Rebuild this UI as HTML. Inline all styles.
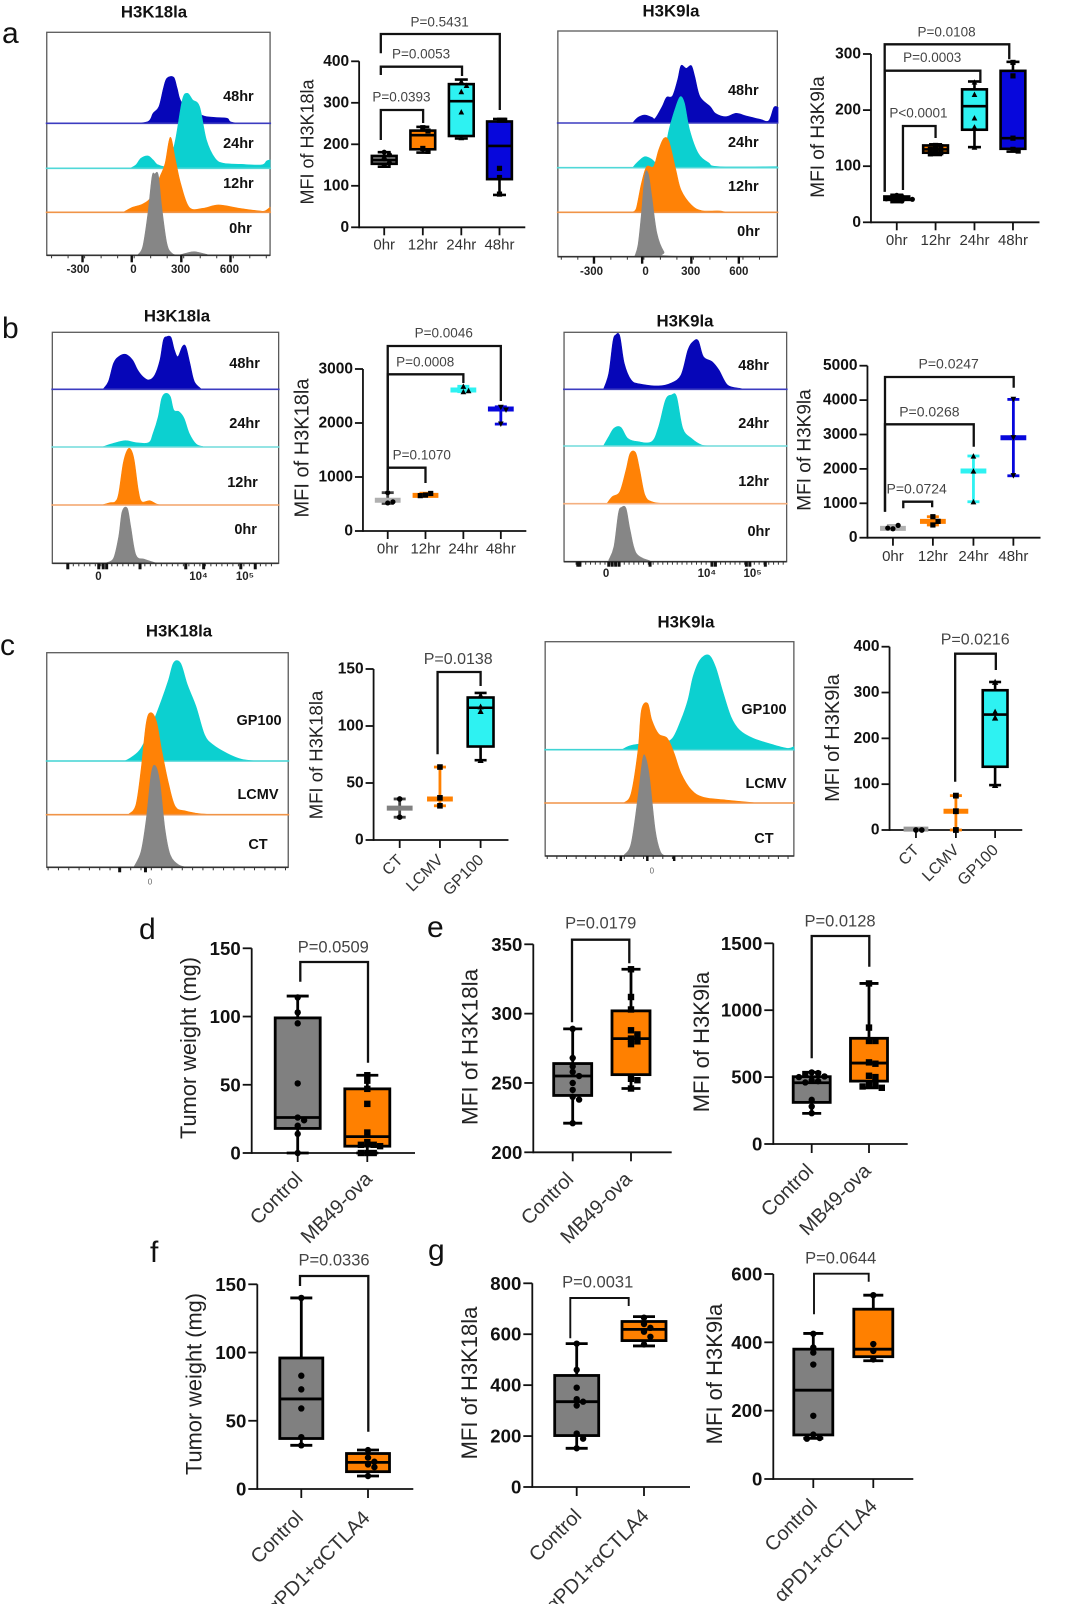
<!DOCTYPE html>
<html lang="en">
<head>
<meta charset="utf-8">
<title>Histone lactylation flow cytometry and MFI figure</title>
<style>
html,body{margin:0;padding:0;background:#fff;}
svg{display:block;font-family:"Liberation Sans",sans-serif;}
.letter{font-size:30px;fill:#111;}
.ftitle{font-size:16.8px;font-weight:bold;fill:#111;text-anchor:middle;dominant-baseline:central;}
</style>
</head>
<body>
<svg id="figure" xmlns="http://www.w3.org/2000/svg" width="1080" height="1604" viewBox="0 0 1080 1604">
<rect width="1080" height="1604" fill="#fff"/>
<text class="letter" x="2" y="43">a</text>
<text class="letter" x="2" y="338">b</text>
<text class="letter" x="0" y="655">c</text>
<text class="letter" x="139" y="939">d</text>
<text class="letter" x="427" y="937">e</text>
<text class="letter" x="150" y="1262">f</text>
<text class="letter" x="428" y="1260">g</text>
<text class="ftitle" x="154" y="12">H3K18la</text>
<text class="ftitle" x="671" y="11">H3K9la</text>
<text class="ftitle" x="177" y="316">H3K18la</text>
<text class="ftitle" x="685" y="321">H3K9la</text>
<text class="ftitle" x="179" y="631">H3K18la</text>
<text class="ftitle" x="686" y="622">H3K9la</text>
</svg>
<script>
/* ---------- colours ---------- */
const GREY='#808080', ORANGE='#ff8000', CYAN='#2ef2f2', BLUE='#0707dc';
const HGREY='#868686', HORANGE='#ff8206', HCYAN='#0cd0d0', HBLUE='#0606b8';

/* ---------- flow histograms: [channel, count] readings ---------- */
const a18Hist48=[[244,0],[294,5],[309,30],[326,50],[339,105],[349,135],[369,138],[379,105],[394,60],[449,25],[484,18],[524,15],[544,2],[649,1]];
const a18Hist24=[[244,1],[259,10],[274,30],[294,37],[309,25],[324,10],[354,10],[374,85],[394,205],[409,225],[424,205],[444,185],[464,85],[489,30],[514,15],[564,12],[624,10],[639,22],[649,25]];
const a18Hist12=[[224,1],[249,15],[279,25],[304,47],[329,107],[344,147],[359,225],[374,157],[389,87],[414,15],[454,12],[499,22],[559,12],[619,4],[634,4],[649,15]];
const a18Hist0=[[264,1],[279,26],[294,126],[306,236],[314,244],[324,241],[334,146],[349,36],[364,6],[384,1],[404,6],[429,11],[464,3],[484,0],[649,0]];

const a9Hist48=[[218,1],[233,17],[253,24],[273,17],[283,14],[303,49],[316,77],[333,81],[348,129],[358,172],[373,164],[388,172],[398,139],[413,79],[443,49],[458,29],[488,19],[518,29],[548,21],[588,11],[613,7],[628,47],[640,47]];
const a9Hist24=[[218,1],[233,18],[253,33],[273,25],[293,8],[308,33],[323,113],[343,183],[356,213],[368,193],[383,113],[408,43],[438,15],[468,3],[638,3]];
const a9Hist12=[[218,1],[228,12],[243,87],[258,137],[278,137],[293,187],[308,222],[323,212],[343,127],[358,67],[388,22],[418,5],[468,4],[508,0],[638,0]];
const a9Hist0=[[223,0],[233,35],[243,130],[253,245],[263,248],[273,180],[288,70],[308,15],[328,2],[638,0]];

const b18Hist48=[[148,1],[163,23],[178,78],[193,98],[213,105],[233,88],[248,58],[263,38],[280,28],[298,43],[313,88],[323,148],[333,158],[345,156],[355,118],[365,98],[378,128],[388,128],[400,78],[413,23],[433,1]];
const b18Hist24=[[148,1],[178,11],[213,19],[243,13],[280,13],[293,41],[308,91],[318,146],[330,161],[343,151],[353,111],[368,106],[383,86],[398,41],[418,9],[438,1]];
const b18Hist12=[[148,1],[168,7],[183,10],[193,35],[206,125],[218,165],[228,167],[238,135],[250,45],[260,10],[283,13],[303,3],[318,0]];
const b18Hist0=[[158,2],[178,15],[193,80],[203,155],[218,165],[228,110],[243,25],[268,12],[298,2]];

const b9Hist48=[[115,1],[130,48],[142,143],[150,163],[162,160],[175,78],[195,28],[220,16],[275,10],[310,18],[340,43],[360,118],[375,143],[390,146],[405,98],[430,83],[450,58],[475,13],[510,3],[530,0]];
const b9Hist24=[[115,1],[130,28],[145,53],[165,56],[185,23],[215,13],[255,13],[275,58],[295,138],[312,153],[327,148],[345,53],[370,23],[400,3],[430,0]];
const b9Hist12=[[125,1],[140,21],[162,36],[180,101],[192,151],[208,153],[220,101],[235,26],[255,6],[290,0]];
const b9Hist0=[[130,5],[145,45],[158,145],[167,163],[180,160],[192,95],[210,25],[250,2]];

const c18HistGp=[[229,1],[249,13],[274,38],[304,103],[334,183],[354,243],[369,295],[389,293],[409,228],[434,163],[459,78],[484,48],[524,23],[564,6],[604,0]];
const c18HistLcmv=[[239,2],[259,29],[274,134],[289,274],[302,306],[319,279],[334,194],[354,94],[374,24],[404,11],[444,3],[484,0]];
const c18HistCt=[[254,2],[274,47],[289,142],[304,282],[316,304],[329,252],[344,112],[359,37],[384,7],[414,0]];

const c9HistGp=[[225,1],[255,14],[340,24],[370,34],[395,89],[415,149],[430,219],[450,269],[475,284],[495,249],[515,179],[540,99],[565,59],[605,34],[665,14],[705,4],[723,9]];
const c9HistLcmv=[[230,1],[250,29],[270,159],[280,279],[298,299],[310,249],[330,207],[355,194],[375,149],[395,89],[425,39],[460,17],[525,9],[605,1]];
const c9HistCt=[[230,3],[250,38],[270,178],[283,288],[291,298],[303,238],[320,78],[335,13],[350,0]];

/* ---------- box / range charts: [low, q1, median, q3, high] ---------- */
const hours=['0hr','12hr','24hr','48hr'];
const virus=['CT','LCMV','GP100'];
const mb49=['Control','MB49-ova'];
const pd1=['Control','αPD1+αCTLA4'];

const a18YTicks=[0,100,200,300,400];
const a18Boxes=[[146,153,162,172,181],[180,188,222,233,242],[214,220,304,345,356],[78,116,196,255,261]];
const a18Points=[[181,175,165,155,150],[240,232,190,183],[352,342,327,278,216],[258,258,142,120,80]];
const a18P=['P=0.0393','P=0.0053','P=0.5431'];

const a9YTicks=[0,100,200,300];
const a9Boxes=[[36,40,42,46,49],[120,124,130,137,139],[134,165,207,237,251],[126,131,150,270,286]];
const a9Points=[[48,46,44,43,42,41,40,38],[137,135,130,128,124,122],[250,228,186,170,134],[285,261,150,130,127]];
const a9P=['P<0.0001','P=0.0003','P=0.0108'];

const b18YTicks=[0,1000,2000,3000];
const b18Boxes=[[510,510,570,710,710],[650,650,660,700,700],[2580,2580,2610,2680,2680],[1980,1980,2260,2300,2300]];
const b18Points=[[710,520,540],[665,695,655],[2580,2680,2600],[2290,2240,1980]];
const b18P=['P=0.1070','P=0.0008','P=0.0046'];

const b9YTicks=[0,1000,2000,3000,4000,5000];
const b9Boxes=[[260,260,270,358,358],[370,370,475,610,610],[1045,1045,1940,2375,2375],[1800,1800,2905,4020,4020]];
const b9Points=[[260,358,280],[610,370,475],[2375,1940,1045],[4020,2905,1800]];
const b9P=['P=0.0724','P=0.0268','P=0.0247'];

const c18YTicks=[0,50,100,150];
const c18Boxes=[[20,20,28,36,36],[30,30,36,64,64],[70,82,116,125,129]];
const c18Points=[[36,20],[64,37,30],[127,117,113,70]];
const c18P=['P=0.0138'];

const c9YTicks=[0,100,200,300,400];
const c9Boxes=[[0,0,2,2,2],[0,0,41,75,75],[98,138,252,305,323]];
const c9Points=[[0,0],[75,41,0],[323,258,245,98]];
const c9P=['P=0.0216'];

const dYTicks=[0,50,100,150];
const dBoxes=[[0,18,26,99,115],[0,5,12,47,57]];
const dPoints=[[114,103,95,51,26,24,20,14,0],[57,53,47,36,15,8,6,6,5,0,0,0]];
const dP=['P=0.0509'];

const e18YTicks=[200,250,300,350];
const e18Boxes=[[221,241,255,264,289],[246,256,282,302,332]];
const e18Points=[[289,268,262,258,255,250,245,240,238,221],[332,312,303,288,285,282,280,278,253,252,246]];
const e18P=['P=0.0179'];

const e9YTicks=[0,500,1000,1500];
const e9Boxes=[[229,311,458,503,536],[420,470,605,790,1200]];
const e9Points=[[535,530,520,505,500,475,470,460,330,280,230],[1200,870,770,770,610,600,510,500,450,440,430,420]];
const e9P=['P=0.0128'];

const fYTicks=[0,50,100,150];
const fBoxes=[[32,37,66,96,140],[9.5,12.7,19.5,26,28.6]];
const fPoints=[[140,83,73,59,38,32],[28.5,23,20,18,16,9.5]];
const fP=['P=0.0336'];

const g18YTicks=[0,200,400,600,800];
const g18Boxes=[[152,202,335,438,563],[554,575,619,650,669]];
const g18Points=[[563,460,390,345,335,320,210,190,152],[665,640,625,610,590,560]];
const g18P=['P=0.0031'];

const g9YTicks=[0,200,400,600];
const g9Boxes=[[119,129,260,380,426],[346,358,380,497,538]];
const g9Points=[[425,385,370,335,185,130,120,118],[538,395,375,350]];
const g9P=['P=0.0644'];

/* ---------- helpers ---------- */
const NS='http://www.w3.org/2000/svg';
const root=document.getElementById('figure');
const STRETCH=1.032;
function make(tag,parent,attrs,text){
  const e=document.createElementNS(NS,tag);
  for(const k in attrs)e.setAttribute(k,attrs[k]);
  if(text!==undefined)e.textContent=text;
  parent.appendChild(e);
  return e;
}
function linear(d0,d1,r0,r1){return v=>r0+(v-d0)/(d1-d0)*(r1-r0);}
function fitFlow(c,off){
  const s=x=>off+(x-off)*STRETCH;
  c.frame.x=s(c.frame.x);
  c.frame.w*=STRETCH;
  c.tracks.forEach(t=>{t.lx=s(t.lx);});
  return c;
}
function fitChart(c,off){
  const s=x=>off+(x-off)*STRETCH;
  c.axisX=s(c.axisX);
  c.endX=s(c.endX);
  c.titleX=s(c.titleX);
  c.catX=c.catX.map(s);
  c.boxW*=STRETCH;
  c.brackets=c.brackets.map(b=>[s(b[0]),b[1],b[2],s(b[3]),b[4],s(b[5]),b[6]]);
  return c;
}
function smoothPath(pts,base){
  let d='M'+pts[0][0]+' '+pts[0][1];
  for(let i=0;i<pts.length-1;i++){
    const p0=pts[Math.max(i-1,0)],p1=pts[i],p2=pts[i+1],p3=pts[Math.min(i+2,pts.length-1)];
    const c1x=p1[0]+(p2[0]-p0[0])/6,c1y=Math.min(base,p1[1]+(p2[1]-p0[1])/6);
    const c2x=p2[0]-(p3[0]-p1[0])/6,c2y=Math.min(base,p2[1]-(p3[1]-p1[1])/6);
    d+='C'+c1x.toFixed(2)+' '+c1y.toFixed(2)+' '+c2x.toFixed(2)+' '+c2y.toFixed(2)+' '+p2[0].toFixed(2)+' '+p2[1].toFixed(2);
  }
  return d;
}

/* ---------- flow histogram panel ---------- */
function drawFlow(cfg){
  const g=make('g',root,{});
  
  
  const f=cfg.frame;
  const x=linear(0,cfg.channels,f.x,f.x+f.w);
  const frame=make('rect',g,{x:f.x,y:f.y,width:f.w,height:f.h,fill:'#fff',stroke:'#5a5a5a','stroke-width':1.3});
  
  
  cfg.tracks.forEach(t=>{
    const pts=t.data.map(p=>[x(p[0]),t.base-p[1]/3]);
    const d=smoothPath(pts,t.base)+'L'+pts[pts.length-1][0].toFixed(2)+' '+t.base+'L'+pts[0][0].toFixed(2)+' '+t.base+'Z';
    const area=make('path',g,{d:d,fill:t.fill,stroke:t.fill,'stroke-width':0.6});
    
    
    if(t.line){
      const ln=make('line',g,{x1:f.x-1,x2:f.x+f.w+1,y1:t.base,y2:t.base,stroke:t.line,'stroke-width':1.6});
      
      
    }
    const lb=make('text',g,{x:t.lx,y:t.ly,'text-anchor':'middle','dominant-baseline':'central','font-size':14.5,'font-weight':'bold',fill:'#111'},t.label);
    
    
  });
  const axis=make('line',g,{x1:f.x,x2:f.x+f.w,y1:f.y+f.h,y2:f.y+f.h,stroke:'#333','stroke-width':1.6});
  
  
  cfg.minor.forEach(c=>{
    const t=make('line',g,{x1:x(c),x2:x(c),y1:f.y+f.h,y2:f.y+f.h+3,stroke:'#333','stroke-width':1});
    
    
  });
  cfg.major.forEach(c=>{
    const t=make('line',g,{x1:x(c),x2:x(c),y1:f.y+f.h,y2:f.y+f.h+(cfg.majorLen||7),stroke:'#111','stroke-width':cfg.majorW||2.4});
    
    
  });
  cfg.tickLabels.forEach((s,i)=>{
    const t=make('text',g,{x:x(cfg.tickAt[i]),y:cfg.tickY,'text-anchor':'middle','dominant-baseline':'central','font-size':cfg.tickSize||11.5,'font-weight':cfg.tickWeight||'bold',fill:cfg.tickFill||'#222'},s);
    
    
  });
}

/* ---------- markers ---------- */
function marker(parent,shape,cx,cy,r){
  let m;
  if(shape==='circle')m=make('circle',parent,{cx:cx,cy:cy,r:r,fill:'#000'});
  else if(shape==='square')m=make('rect',parent,{x:cx-r,y:cy-r,width:2*r,height:2*r,fill:'#000'});
  else if(shape==='up')m=make('path',parent,{d:'M'+cx+' '+(cy-r*1.1)+'L'+(cx+r*1.1)+' '+(cy+r)+'L'+(cx-r*1.1)+' '+(cy+r)+'Z',fill:'#000'});
  else m=make('path',parent,{d:'M'+cx+' '+(cy+r*1.1)+'L'+(cx+r*1.1)+' '+(cy-r)+'L'+(cx-r*1.1)+' '+(cy-r)+'Z',fill:'#000'});
  
  
}
function swarm(ys,r){
  const placed=[];
  const step=r*2;
  return ys.map(y=>{
    let off=0,k=0;
    while(placed.some(p=>Math.hypot(p[0]-off,p[1]-y)<r*1.6)&&k<9){
      k++;
      off=(k%2?1:-1)*Math.ceil(k/2)*step;
    }
    placed.push([off,y]);
    return off;
  });
}

/* ---------- statistics chart ---------- */
function drawChart(c){
  const g=make('g',root,{});
  
  
  const y=linear(c.ticks[0],c.ticks[c.ticks.length-1],c.y0,c.yTop);
  const sw=c.sw||2;
  const bw=c.bw||2.6;
  const tickLen=c.tickLen||8;
  const yAxis=make('line',g,{x1:c.axisX,x2:c.axisX,y1:c.y0+sw/2,y2:c.yTop,stroke:'#111','stroke-width':sw});
  
  
  const xAxis=make('line',g,{x1:c.axisX,x2:c.endX,y1:c.y0,y2:c.y0,stroke:'#111','stroke-width':sw});
  
  
  c.ticks.forEach(v=>{
    const t=make('line',g,{x1:c.axisX-tickLen,x2:c.axisX,y1:y(v),y2:y(v),stroke:'#111','stroke-width':sw});
    
    
    const l=make('text',g,{x:c.axisX-tickLen-2,y:y(v),'text-anchor':'end','dominant-baseline':'central','font-size':c.tickFont,'font-weight':'bold',fill:'#111'},String(v));
    
    
  });
  const title=make('text',g,{x:c.titleX,y:c.titleY,'text-anchor':'middle','dominant-baseline':'central','font-size':c.titleSize,fill:'#222',transform:'rotate(-90 '+c.titleX+' '+c.titleY+')'},c.title);
  
  

  c.cats.forEach((name,i)=>{
    const cx=c.catX[i];
    const t=make('line',g,{x1:cx,x2:cx,y1:c.y0,y2:c.y0+tickLen,stroke:'#111','stroke-width':sw});
    
    
    let l;
    if(c.rot){
      const lx=cx+c.rotDx,ly=c.y0+c.rotDy;
      l=make('text',g,{x:lx,y:ly,'text-anchor':'end','font-size':c.catFont,fill:'#333',transform:'rotate(-45 '+lx+' '+ly+')'},name);
    }else{
      l=make('text',g,{x:cx,y:c.catY,'text-anchor':'middle','dominant-baseline':'central','font-size':c.catFont,fill:'#333'},name);
    }
    
    

    const b=c.boxes[i];
    const col=c.colors[i];
    const kind=c.kinds?c.kinds[i]:'box';
    const bg=make('g',g,{});
    
    
    if(kind==='box'){
      make('line',bg,{x1:cx,x2:cx,y1:y(b[0]),y2:y(b[4]),stroke:'#000','stroke-width':bw});
      make('line',bg,{x1:cx-c.capW/2,x2:cx+c.capW/2,y1:y(b[0]),y2:y(b[0]),stroke:'#000','stroke-width':bw});
      make('line',bg,{x1:cx-c.capW/2,x2:cx+c.capW/2,y1:y(b[4]),y2:y(b[4]),stroke:'#000','stroke-width':bw});
      make('rect',bg,{x:cx-c.boxW/2,y:y(b[3]),width:c.boxW,height:y(b[1])-y(b[3]),fill:col,stroke:'#000','stroke-width':bw});
      make('line',bg,{x1:cx-c.boxW/2,x2:cx+c.boxW/2,y1:y(b[2]),y2:y(b[2]),stroke:'#000','stroke-width':bw});
    }else{
      const lc=c.rangeLine&&c.rangeLine[i]?c.rangeLine[i]:col;
      make('line',bg,{x1:cx,x2:cx,y1:y(b[0]),y2:y(b[4]),stroke:lc,'stroke-width':2.8});
      make('line',bg,{x1:cx-c.capW/2,x2:cx+c.capW/2,y1:y(b[0]),y2:y(b[0]),stroke:lc,'stroke-width':2.8});
      make('line',bg,{x1:cx-c.capW/2,x2:cx+c.capW/2,y1:y(b[4]),y2:y(b[4]),stroke:lc,'stroke-width':2.8});
      make('line',bg,{x1:cx-c.boxW/2,x2:cx+c.boxW/2,y1:y(b[2]),y2:y(b[2]),stroke:col,'stroke-width':5});
    }
    const ys=c.points[i].map(v=>y(v));
    const offs=swarm(ys,c.markR);
    ys.forEach((py,j)=>marker(bg,c.shapes[i],cx+offs[j],py,c.markR));
  });

  c.pLabels.forEach((s,i)=>{
    const br=c.brackets[i];
    const p=make('path',g,{d:'M'+br[0]+' '+br[1]+'V'+br[2]+'H'+br[3]+'V'+br[4],fill:'none',stroke:'#111','stroke-width':c.brW||2.3});
    
    
    const t=make('text',g,{x:br[5],y:br[6],'text-anchor':'middle','dominant-baseline':'central','font-size':c.pSize,fill:'#444'},s);
    
    
  });
}

/* ---------- flow panels ---------- */
function range(a,b,s){const r=[];for(let v=a;v<=b;v+=s)r.push(v);return r;}

drawFlow(fitFlow({name:'flow-a-h3k18la',frame:{x:45.3,y:32.3,w:216.4,h:223},channels:649,
  major:[104,247,391,534],minor:range(14,640,48),tickLabels:['-300','0','300','600'],tickAt:[91,252,389,531],tickY:270,
  tracks:[
   {data:a18Hist48,base:123.3,fill:HBLUE,line:'#3c3cc0',label:'48hr',lx:231,ly:97},
   {data:a18Hist24,base:168.3,fill:HCYAN,line:'#50d8d8',label:'24hr',lx:231,ly:144},
   {data:a18Hist12,base:212.3,fill:HORANGE,line:'#f09448',label:'12hr',lx:231,ly:184},
   {data:a18Hist0,base:255.3,fill:HGREY,line:null,label:'0hr',lx:233,ly:229}]},0));

drawFlow(fitFlow({name:'flow-a-h3k9la',frame:{x:557.3,y:31,w:212.7,h:225.7},channels:638,
  major:[105,245,388,526],minor:range(10,630,48),tickLabels:['-300','0','300','600'],tickAt:[98,255,386,526],tickY:272,
  tracks:[
   {data:a9Hist48,base:123,fill:HBLUE,line:'#3c3cc0',label:'48hr',lx:737,ly:91},
   {data:a9Hist24,base:167.7,fill:HCYAN,line:'#50d8d8',label:'24hr',lx:737,ly:143},
   {data:a9Hist12,base:212.3,fill:HORANGE,line:'#f09448',label:'12hr',lx:737,ly:187},
   {data:a9Hist0,base:256.7,fill:HGREY,line:null,label:'0hr',lx:742,ly:232}]},540));

drawFlow(fitFlow({name:'flow-b-h3k18la',frame:{x:50.7,y:332.3,w:219.3,h:231},channels:658,
  major:[45,135,148,158,255,388,440,548,590],minor:range(45,650,16),majorLen:6,majorW:3,
  tickLabels:['0','10⁴','10⁵'],tickAt:[134,425,560],tickY:577,
  tracks:[
   {data:b18Hist48,base:389.3,fill:HBLUE,line:'#3c3cc0',label:'48hr',lx:237,ly:364},
   {data:b18Hist24,base:447,fill:HCYAN,line:'#70dcdc',label:'24hr',lx:237,ly:424},
   {data:b18Hist12,base:505,fill:HORANGE,line:'#f4a468',label:'12hr',lx:235,ly:483},
   {data:b18Hist0,base:563.3,fill:HGREY,line:null,label:'0hr',lx:238,ly:530}]},0));

drawFlow(fitFlow({name:'flow-b-h3k9la',frame:{x:563.3,y:332.3,w:215.7,h:229.4},channels:647,
  major:[40,46,130,140,150,160,250,430,440,530,540,585],minor:range(35,640,14),majorLen:5,majorW:3,
  tickLabels:['0','10⁴','10⁵'],tickAt:[122,415,548],tickY:574,
  tracks:[
   {data:b9Hist48,base:389.3,fill:HBLUE,line:'#3c3cc0',label:'48hr',lx:747,ly:366},
   {data:b9Hist24,base:446,fill:HCYAN,line:'#70dcdc',label:'24hr',lx:747,ly:424},
   {data:b9Hist12,base:503.7,fill:HORANGE,line:'#f4b080',label:'12hr',lx:747,ly:482},
   {data:b9Hist0,base:561.7,fill:HGREY,line:null,label:'0hr',lx:752,ly:532}]},540));

drawFlow(fitFlow({name:'flow-c-h3k18la',frame:{x:45.3,y:652.7,w:234,h:214.6},channels:702,
  major:[212,287],minor:range(4,700,30),majorLen:5,majorW:3,
  tickLabels:['0'],tickAt:[300],tickY:882,tickSize:8,tickWeight:'normal',tickFill:'#666',
  tracks:[
   {data:c18HistGp,base:761,fill:HCYAN,line:'#40d4d4',label:'GP100',lx:251,ly:721},
   {data:c18HistLcmv,base:814.7,fill:HORANGE,line:'#f09448',label:'LCMV',lx:250,ly:795},
   {data:c18HistCt,base:867.3,fill:HGREY,line:null,label:'CT',lx:250,ly:845}]},0));

drawFlow(fitFlow({name:'flow-c-h3k9la',frame:{x:545,y:641.7,w:241,h:214.3},channels:723,
  major:[220,297,375],minor:range(6,720,28),majorLen:5,majorW:2.5,
  tickLabels:['0'],tickAt:[310],tickY:871,tickSize:8,tickWeight:'normal',tickFill:'#666',
  tracks:[
   {data:c9HistGp,base:749.7,fill:HCYAN,line:'#40d4d4',label:'GP100',lx:757,ly:710},
   {data:c9HistLcmv,base:803,fill:HORANGE,line:'#f09448',label:'LCMV',lx:759,ly:784},
   {data:c9HistCt,base:856,fill:HGREY,line:null,label:'CT',lx:757,ly:839}]},540));

/* ---------- statistics panels ---------- */
drawChart(fitChart({name:'chart-a-h3k18la',axisX:348,y0:227.3,yTop:61.3,endX:509,ticks:a18YTicks,tickFont:15.5,
  catX:[372.3,409.7,447,484],cats:hours,catY:245,catFont:15,title:'MFI of H3K18la',titleX:298,titleY:142,titleSize:18,
  boxes:a18Boxes,points:a18Points,colors:[GREY,ORANGE,CYAN,BLUE],shapes:['circle','square','up','square'],boxW:24,capW:13,markR:2.6,sw:1.8,
  pLabels:a18P,pSize:13.5,brackets:[[369,140,110,410,123,389,97],[369,75,66.7,447.7,76,408,54],[369,53.3,34,484.3,110,426,22]]},0));

drawChart(fitChart({name:'chart-a-h3k9la',axisX:860.7,y0:222.3,yTop:54,endX:1024,ticks:a9YTicks,tickFont:15.5,
  catX:[885.7,923.3,961,998.3],cats:hours,catY:240.7,catFont:15,title:'MFI of H3K9la',titleX:810,titleY:137,titleSize:19,
  boxes:a9Boxes,points:a9Points,colors:[GREY,ORANGE,CYAN,BLUE],shapes:['circle','square','up','square'],boxW:24,capW:13,markR:2.6,sw:1.8,
  pLabels:a9P,pSize:13.5,brackets:[[891.7,190,126,923.3,138,906.7,113],[874,191.7,70.7,966.7,83,920,57.3],[874,191.7,44.3,994.7,59.3,934,32]]},540));

drawChart(fitChart({name:'chart-b-h3k18la',axisX:351.7,y0:531,yTop:369,endX:510,ticks:b18YTicks,tickFont:15.5,
  catX:[375.7,412.3,449,485.3],cats:hours,catY:549,catFont:15,title:'MFI of H3K18la',titleX:293,titleY:448,titleSize:20,
  boxes:b18Boxes,points:b18Points,colors:['#b0b0b0',ORANGE,CYAN,BLUE],kinds:['range','range','range','range'],rangeLine:['#444',null,null,null],
  shapes:['circle','square','up','down'],boxW:25,capW:12,markR:2.6,sw:1.8,
  pLabels:b18P,pSize:13.5,brackets:[[375.7,490,467.7,412.3,483,408.7,455],[375.7,490,374.3,449,383,412,362],[375.7,490,346,485.3,401,430,333]]},0));

drawChart(fitChart({name:'chart-b-h3k9la',axisX:857.3,y0:537.7,yTop:365.7,endX:1025,ticks:b9YTicks,tickFont:15.5,
  catX:[882,920.7,960,998.7],cats:hours,catY:556.7,catFont:15,title:'MFI of H3K9la',titleX:796.7,titleY:450,titleSize:19,
  boxes:b9Boxes,points:b9Points,colors:['#b0b0b0',ORANGE,CYAN,BLUE],kinds:['range','range','range','range'],
  shapes:['circle','square','up','down'],boxW:25,capW:12,markR:2.6,sw:1.8,
  pLabels:b9P,pSize:14,brackets:[[892,508.3,501.7,920,507.3,905,488.7],[874.3,511.7,424.3,960.3,446.7,917.3,411.3],[874.3,511.7,377,999,387.7,936,363.3]]},540));

drawChart(fitChart({name:'chart-c-h3k18la',axisX:362,y0:840,yTop:669,endX:492.7,ticks:c18YTicks,tickFont:15.5,
  catX:[387.3,426.3,465.7],cats:virus,rot:true,rotDx:4,rotDy:21,catFont:16,title:'MFI of H3K18la',titleX:306,titleY:755,titleSize:18.5,
  boxes:c18Boxes,points:c18Points,colors:[GREY,ORANGE,CYAN],kinds:['range','range','box'],rangeLine:['#444',null,null],
  shapes:['circle','square','up'],boxW:25,capW:12,markR:2.8,sw:1.8,
  pLabels:c18P,pSize:16,brackets:[[424,754.3,672,465.7,686,444,659.3]]},0));

drawChart(fitChart({name:'chart-c-h3k9la',axisX:878.7,y0:830,yTop:646.7,endX:1007.3,ticks:c9YTicks,tickFont:15.5,
  catX:[904.3,943,981],cats:virus,rot:true,rotDx:4,rotDy:21,catFont:16,title:'MFI of H3K9la',titleX:824,titleY:738,titleSize:20,
  boxes:c9Boxes,points:c9Points,colors:['#999',ORANGE,CYAN],kinds:['range','range','box'],
  shapes:['circle','square','up'],boxW:24,capW:12,markR:2.9,sw:1.8,
  pLabels:c9P,pSize:16,brackets:[[942.3,781.7,653.7,981.7,670,961.7,640]]},540));

drawChart({name:'chart-d-tumor-weight',axisX:251.7,y0:1153,yTop:948.3,endX:415,ticks:dYTicks,tickFont:18.6,
  catX:[297.7,367.3],cats:mb49,rot:true,rotDx:6,rotDy:27,catFont:20,title:'Tumor weight (mg)',titleX:188.3,titleY:1048,titleSize:21.8,
  boxes:dBoxes,points:dPoints,colors:[GREY,ORANGE],shapes:['circle','square'],boxW:45,capW:22,markR:3.2,sw:1.8,bw:2.8,tickLen:9,
  pLabels:dP,pSize:16.5,brackets:[[300.3,981.7,962,368,1062.7,333.3,947.3]]});

drawChart({name:'chart-e-h3k18la',axisX:533.3,y0:1152.3,yTop:944.3,endX:671.7,ticks:e18YTicks,tickFont:18.6,
  catX:[572.7,631],cats:mb49,rot:true,rotDx:2,rotDy:28,catFont:20,title:'MFI of H3K18la',titleX:470,titleY:1047,titleSize:22.5,
  boxes:e18Boxes,points:e18Points,colors:[GREY,ORANGE],shapes:['circle','square'],boxW:38,capW:19,markR:3.2,sw:1.8,bw:2.8,tickLen:9,
  pLabels:e18P,pSize:16.5,brackets:[[572,1022.3,939.7,629.3,963.3,600.7,923.3]]});

drawChart({name:'chart-e-h3k9la',axisX:773.3,y0:1144,yTop:943.3,endX:907.7,ticks:e9YTicks,tickFont:18.6,
  catX:[811.7,869],cats:mb49,rot:true,rotDx:3,rotDy:28,catFont:20,title:'MFI of H3K9la',titleX:701.7,titleY:1042,titleSize:22,
  boxes:e9Boxes,points:e9Points,colors:[GREY,ORANGE],shapes:['circle','square'],boxW:37,capW:19,markR:3.2,sw:1.8,bw:2.8,tickLen:9,
  pLabels:e9P,pSize:16.5,brackets:[[811.7,1058.3,936,869.3,966.7,840,921.7]]});

drawChart({name:'chart-f-tumor-weight',axisX:257.3,y0:1489,yTop:1284.3,endX:413.3,ticks:fYTicks,tickFont:18.6,
  catX:[301.3,368],cats:pd1,rot:true,rotDx:3,rotDy:30,catFont:20,title:'Tumor weight (mg)',titleX:194,titleY:1384,titleSize:21.8,
  boxes:fBoxes,points:fPoints,colors:[GREY,ORANGE],shapes:['circle','circle'],boxW:43,capW:22,markR:3.2,sw:1.8,bw:2.8,tickLen:9,
  pLabels:fP,pSize:16.5,brackets:[[300,1286,1276,368.3,1431.7,334,1260.7]]});

drawChart({name:'chart-g-h3k18la',axisX:532.3,y0:1487,yTop:1283.3,endX:690,ticks:g18YTicks,tickFont:18.6,
  catX:[576.7,644],cats:pd1,rot:true,rotDx:6,rotDy:30,catFont:20,title:'MFI of H3K18la',titleX:469.3,titleY:1383,titleSize:22,
  boxes:g18Boxes,points:g18Points,colors:[GREY,ORANGE],shapes:['circle','circle'],boxW:44,capW:22,markR:3.2,sw:1.8,bw:2.8,tickLen:9,brW:1.9,
  pLabels:g18P,pSize:16.5,brackets:[[570.3,1338.3,1298,628.7,1306,597.7,1282.7]]});

drawChart({name:'chart-g-h3k9la',axisX:773.3,y0:1479,yTop:1274,endX:913.3,ticks:g9YTicks,tickFont:18.6,
  catX:[813.3,873.3],cats:pd1,rot:true,rotDx:5,rotDy:28,catFont:20,title:'MFI of H3K9la',titleX:714.3,titleY:1374,titleSize:22,
  boxes:g9Boxes,points:g9Points,colors:[GREY,ORANGE],shapes:['circle','circle'],boxW:39,capW:20,markR:3.2,sw:1.8,bw:2.8,tickLen:9,brW:1.9,
  pLabels:g9P,pSize:16.5,brackets:[[814,1314.3,1273.7,868.7,1281.7,840.7,1258.3]]});
</script>
</body>
</html>
